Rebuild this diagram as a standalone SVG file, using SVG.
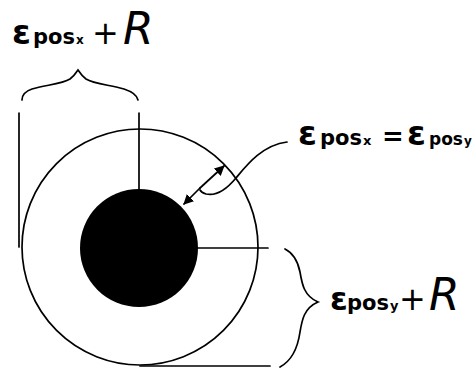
<svg xmlns="http://www.w3.org/2000/svg" width="475" height="369" viewBox="0 0 475 369">
<defs>
<style>
.ln{fill:none;stroke:#000;stroke-width:1.7;stroke-linecap:round}
.t{font-family:"DejaVu Sans","Liberation Sans",sans-serif;fill:#000}
.b{font-weight:bold}
.R{font-style:italic;font-size:44px}
.pl{font-size:32px}
</style>
<marker id="ah" viewBox="0 0 10 10" refX="9" refY="5" markerWidth="6" markerHeight="6" orient="auto-start-reverse" markerUnits="strokeWidth">
<path d="M0,0 L10,5 L0,10 z" fill="#000"/>
</marker>
</defs>
<rect width="475" height="369" fill="#fff"/>
<g id="outer-circle"><circle cx="140" cy="247" r="118" class="ln"/></g>
<g id="inner-circle"><circle cx="139" cy="248" r="59" fill="#000"/></g>
<g id="connectors">
<path class="ln" d="M139 189 V113"/>
<path class="ln" d="M19 113 V247"/>
<path class="ln" d="M198 248 H268"/>
<path class="ln" d="M140 366 H270"/>
<path class="ln" d="M22 100 C22 94 26 91 32 89 C45 85 62 84 70 79 C74 76 76 73 78 70 C80 73 82 76 86 79 C94 84 111 85 124 89 C130 91 137 94 138 100"/>
<path class="ln" d="M285 249 C293 253 298 262 300 272 C302 284 304 296 318 302 C304 308 302 320 300 332 C298 346 293 360 280 367"/>
<path class="ln" d="M287 142 C262 145 246 166 236 178 C226 190 215 196 206 194 C203 193 201 192 200 190"/>
<line class="ln" x1="200" y1="188" x2="184" y2="204" marker-end="url(#ah)" stroke-width="1.8"/>
<line class="ln" x1="200" y1="188" x2="224" y2="166" marker-end="url(#ah)" stroke-width="1.8"/>
</g>
<g id="label-top" class="t">
<text class="b" x="12" y="44" font-size="34">ε</text>
<text class="b" x="33" y="44" font-size="21">pos</text>
<text class="b" x="76" y="44" font-size="12">x</text>
<text class="pl" x="92" y="44">+</text>
<text class="R" x="123" y="44">R</text>
</g>
<g id="label-mid" class="t b">
<text x="298" y="145" font-size="34">ε</text>
<text x="320" y="145" font-size="21">pos</text>
<text x="363" y="145" font-size="13">x</text>
<text x="382" y="145" font-size="26">=</text>
<text x="407" y="145" font-size="34">ε</text>
<text x="429" y="145" font-size="17">pos</text>
<text x="464" y="145" font-size="12">y</text>
</g>
<g id="label-right" class="t">
<text class="b" x="330" y="310" font-size="32">ε</text>
<text class="b" x="347" y="310" font-size="21">pos</text>
<text class="b" x="390" y="310" font-size="13">y</text>
<text class="pl" x="399" y="310">+</text>
<text class="R" x="429" y="310">R</text>
</g>
</svg>
